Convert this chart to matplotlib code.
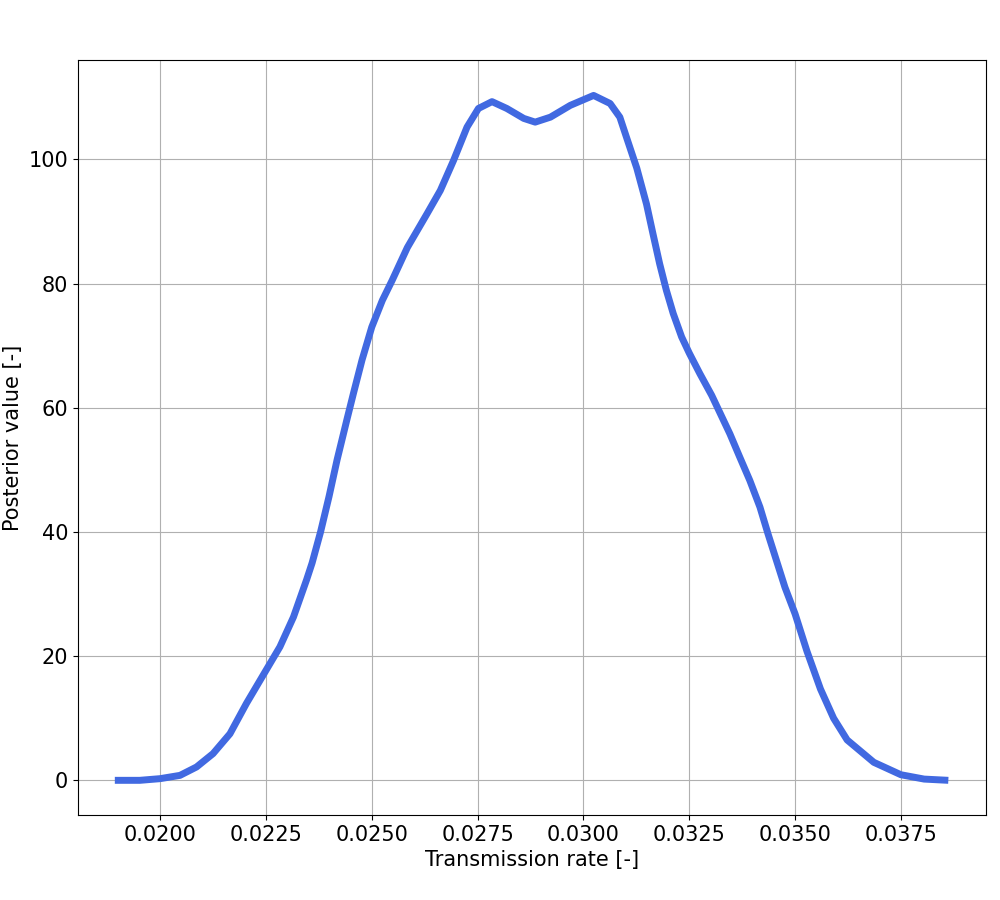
import matplotlib
matplotlib.use("Agg")
import matplotlib.pyplot as plt

transmission_rate = [
    0.01893, 0.01952, 0.02000, 0.02047, 0.02086, 0.02125, 0.02165, 0.02204,
    0.02250, 0.02283, 0.02315, 0.02346, 0.02359, 0.02379, 0.02399, 0.02418,
    0.02442, 0.02457, 0.02477, 0.02500, 0.02525, 0.02548, 0.02584, 0.02631,
    0.02662, 0.02693, 0.02725, 0.02752, 0.02784, 0.02819, 0.02859, 0.02886,
    0.02922, 0.02969, 0.03024, 0.03063, 0.03086, 0.03102, 0.03126, 0.03149,
    0.03164, 0.03180, 0.03196, 0.03212, 0.03232, 0.03250, 0.03275, 0.03303,
    0.03346, 0.03369, 0.03393, 0.03417, 0.03436, 0.03456, 0.03476, 0.03500,
    0.03528, 0.03560, 0.03591, 0.03623, 0.03686, 0.03750, 0.03805, 0.03862,
]
posterior_value = [
    0.0, 0.0, 0.27, 0.8, 2.15, 4.3, 7.5, 12.4,
    17.7, 21.5, 26.3, 32.3, 35.0, 40.0, 45.7, 51.6,
    58.3, 62.4, 67.7, 73.0, 77.3, 80.5, 85.8, 91.3,
    95.0, 99.8, 105.2, 108.2, 109.3, 108.2, 106.6, 106.0,
    106.8, 108.7, 110.3, 109.0, 106.8, 103.5, 98.6, 92.8,
    88.1, 83.2, 78.9, 75.2, 71.4, 68.8, 65.5, 62.0,
    55.8, 52.1, 48.3, 44.0, 39.7, 35.4, 31.1, 26.8,
    20.8, 14.7, 10.0, 6.5, 2.9, 0.9,
    0.2, 0.0,
]
x_ticks = [0.0200, 0.0225, 0.0250, 0.0275, 0.0300, 0.0325, 0.0350, 0.0375]
x_tick_labels = ['0.0200', '0.0225', '0.0250', '0.0275', '0.0300', '0.0325', '0.0350', '0.0375']

plt.rcParams['font.size'] = 15
fig = plt.figure(figsize=(10, 9), dpi=100)
ax = fig.add_axes([0.078, 0.0944, 0.908, 0.8389])
ax.plot(transmission_rate, posterior_value, color='royalblue', linewidth=5,
        solid_joinstyle='round', solid_capstyle='butt')
ax.grid(True)
ax.set_axisbelow(True)
ax.set_xticks(x_ticks)
ax.set_xticklabels(x_tick_labels)
ax.set_xlim(0.01806, 0.03951)
ax.set_ylim(-5.59, 116.0)
ax.set_xlabel('Transmission rate [-]')
ax.set_ylabel('Posterior value [-]')
fig.savefig('out.png', dpi=100)
